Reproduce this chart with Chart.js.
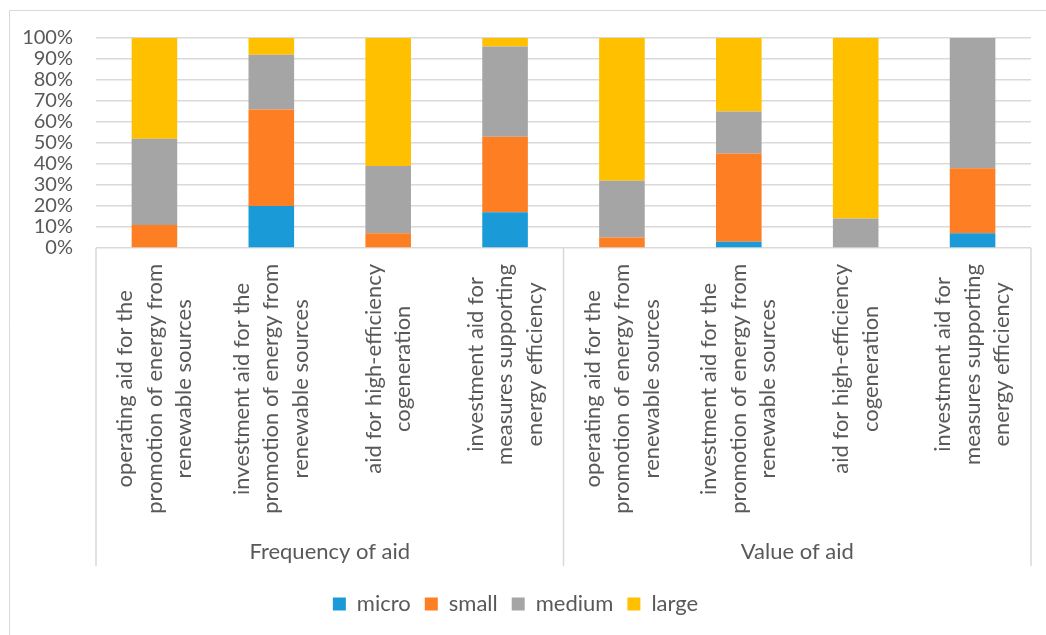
<!DOCTYPE html>
<html>
<head>
<meta charset="utf-8">
<script src="https://cdn.jsdelivr.net/npm/chart.js@4.4.1/dist/chart.umd.min.js"></script>
<style>
  html, body { margin: 0; padding: 0; background: #fff; }
  #wrap { width: 1046px; height: 635px; }
</style>
</head>
<body>
<div id="wrap"><canvas id="aidChart" width="1046" height="635"></canvas></div>
<script>
// category labels (multi-line, as in the original)
const categories = [
  ["operating aid for the", "promotion of energy from", "renewable sources"],
  ["investment aid for the", "promotion of energy from", "renewable sources"],
  ["aid for high-efficiency", "cogeneration"],
  ["investment aid for", "measures supporting", "energy efficiency"],
  ["operating aid for the", "promotion of energy from", "renewable sources"],
  ["investment aid for the", "promotion of energy from", "renewable sources"],
  ["aid for high-efficiency", "cogeneration"],
  ["investment aid for", "measures supporting", "energy efficiency"]
];
const groups = ["Frequency of aid", "Value of aid"];

// shares in %
const micro  = [0, 20, 0, 17, 0, 3, 0, 7];
const small  = [11, 46, 7, 36, 5, 42, 0, 31];
const medium = [41, 26, 32, 43, 27, 20, 14, 62];
const large  = [48, 8, 61, 4, 68, 35, 86, 0.5];

const yTicks = [0, 10, 20, 30, 40, 50, 60, 70, 80, 90, 100];

const textColor = "#595959";
const lineColor = "#d9d9d9";
const fontFamily = "Lato, 'Open Sans', sans-serif";

// draws the rotated category labels, group boxes and outer frame
const axisPlugin = {
  id: "axisPlugin",
  beforeDraw(chart) {
    const ctx = chart.ctx;
    ctx.save();
    ctx.strokeStyle = lineColor;
    ctx.lineWidth = 1;
    ctx.beginPath();
    ctx.moveTo(9.5, 635);
    ctx.lineTo(9.5, 10.5);
    ctx.lineTo(1046, 10.5);
    ctx.stroke();
    ctx.restore();
  },
  afterDraw(chart) {
    const ctx = chart.ctx;
    const x = chart.scales.x;
    const area = chart.chartArea;
    const bottom = area.bottom;
    const boxBottom = 566;

    ctx.save();
    // separators
    const mid = (x.getPixelForValue(3) + x.getPixelForValue(4)) / 2;
    ctx.strokeStyle = lineColor;
    ctx.lineWidth = 1.5;
    [area.left, mid, area.right].forEach((px) => {
      ctx.beginPath();
      ctx.moveTo(px, bottom);
      ctx.lineTo(px, boxBottom);
      ctx.stroke();
    });

    // category labels
    ctx.fillStyle = textColor;
    ctx.font = "22px " + fontFamily;
    ctx.textAlign = "center";
    ctx.textBaseline = "middle";
    const lh = 29.5;
    categories.forEach((lines, i) => {
      const cx = x.getPixelForValue(i);
      const w = Math.max(...lines.map((l) => ctx.measureText(l).width));
      const cy = bottom + 16 + w / 2;
      ctx.save();
      ctx.translate(cx, cy);
      ctx.rotate(-Math.PI / 2);
      lines.forEach((l, j) => {
        ctx.fillText(l, 0, (j - (lines.length - 1) / 2) * lh);
      });
      ctx.restore();
    });

    // group labels
    ctx.fillText(groups[0], (area.left + mid) / 2, 552);
    ctx.fillText(groups[1], (mid + area.right) / 2, 552);
    ctx.restore();
  }
};

const makeSet = (label, data, color) => ({
  label,
  data,
  backgroundColor: color,
  borderWidth: 0,
  categoryPercentage: 1,
  barPercentage: 0.39
});

new Chart(document.getElementById("aidChart"), {
  type: "bar",
  data: {
    labels: categories.map((c) => c.join(" ")),
    datasets: [
      makeSet("micro", micro, "#1a9ad6"),
      makeSet("small", small, "#fd7e23"),
      makeSet("medium", medium, "#a5a5a5"),
      makeSet("large", large, "#ffc000")
    ]
  },
  options: {
    responsive: false,
    animation: false,
    layout: { padding: { top: 38, right: 15, bottom: 10, left: 0 } },
    plugins: {
      tooltip: { enabled: false },
      legend: {
        position: "bottom",
        labels: {
          boxWidth: 13,
          boxHeight: 13,
          padding: 14,
          color: textColor,
          font: { family: fontFamily, size: 22 }
        }
      }
    },
    scales: {
      x: {
        stacked: true,
        grid: { display: false },
        border: { display: false },
        ticks: { display: false },
        afterFit: (scale) => { scale.height = 331; }
      },
      y: {
        stacked: true,
        min: 0,
        max: 100,
        afterBuildTicks: (scale) => { scale.ticks = yTicks.map((v) => ({ value: v })); },
        afterFit: (scale) => { scale.width = 96; },
        grid: { color: lineColor, lineWidth: 1.5, drawTicks: false },
        border: { display: false },
        ticks: {
          autoSkip: false,
          padding: 23,
          color: textColor,
          font: { family: fontFamily, size: 20 },
          callback: (v) => v + "%"
        }
      }
    }
  },
  plugins: [axisPlugin]
});
</script>
</body>
</html>
